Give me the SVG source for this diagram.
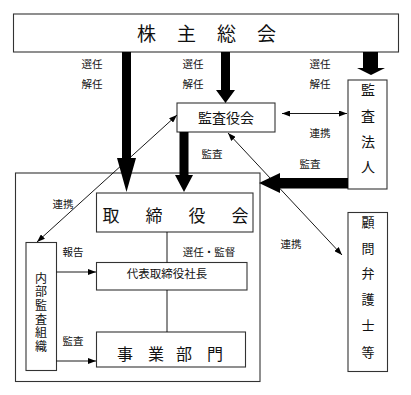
<svg xmlns="http://www.w3.org/2000/svg" width="411" height="395" viewBox="0 0 411 395">
<defs>
<marker id="ah" viewBox="0 0 8 6" markerWidth="8" markerHeight="6" refX="8" refY="3" orient="auto-start-reverse" markerUnits="userSpaceOnUse">
<path d="M0,0 L8,3 L0,6 z" fill="#000"/>
</marker>
<style>
.box{fill:#fff;stroke:#333;stroke-width:1.1}
.t{font-family:"Liberation Serif","Noto Sans CJK JP",serif;fill:#111;text-anchor:middle}
.lbl{font-size:10.5px}
.thin{stroke:#000;stroke-width:0.9;fill:none}
.thick{fill:#000}
</style>
</defs>
<rect width="411" height="395" fill="#fff"/>
<g id="outer"><rect class="box" x="15.5" y="173" width="244.5" height="208.5" fill="none"/></g>
<g id="kabunushi">
<rect class="box" x="13.5" y="14" width="385" height="38"/>
<text class="t" font-size="19" y="40.5"><tspan x="146.5">株</tspan><tspan x="186.5">主</tspan><tspan x="226.5">総</tspan><tspan x="266.5">会</tspan></text>
</g>
<g id="kansayakukai">
<rect class="box" x="177" y="103" width="98" height="29"/>
<text class="t" font-size="14" x="226" y="122.5">監査役会</text>
</g>
<g id="kansahojin">
<rect class="box" x="348" y="80" width="39" height="109"/>
<text class="t" font-size="14"><tspan x="368" y="95">監</tspan><tspan x="368" y="120.5">査</tspan><tspan x="368" y="147">法</tspan><tspan x="368" y="172">人</tspan></text>
</g>
<g id="torishimariyakukai">
<rect class="box" x="96.5" y="193" width="156.5" height="39"/>
<text class="t" font-size="17" y="221.5"><tspan x="111">取</tspan><tspan x="154">締</tspan><tspan x="197">役</tspan><tspan x="240">会</tspan></text>
</g>
<g id="daihyo">
<rect class="box" x="96.5" y="262.5" width="150.5" height="27.5"/>
<text class="t" font-size="11.5" x="167" y="278">代表取締役社長</text>
</g>
<g id="jigyobumon">
<rect class="box" x="96.5" y="332" width="149" height="35"/>
<text class="t" font-size="16" y="360"><tspan x="125">事</tspan><tspan x="156">業</tspan><tspan x="184">部</tspan><tspan x="215">門</tspan></text>
</g>
<g id="naibukansa">
<rect class="box" x="26" y="242.5" width="30.5" height="128"/>
<text class="t" font-size="12"><tspan x="41" y="282.5">内</tspan><tspan x="41" y="296">部</tspan><tspan x="41" y="310">監</tspan><tspan x="41" y="323.5">査</tspan><tspan x="41" y="337">組</tspan><tspan x="41" y="350.5">織</tspan></text>
</g>
<g id="komon">
<rect class="box" x="348" y="212.5" width="39.5" height="159"/>
<text class="t" font-size="13"><tspan x="368" y="226.5">顧</tspan><tspan x="368" y="253">問</tspan><tspan x="368" y="278">弁</tspan><tspan x="368" y="304">護</tspan><tspan x="368" y="330">士</tspan><tspan x="368" y="356.5">等</tspan></text>
</g>
<g id="connectors">
<polygon class="thick" points="122,52 131,52 131,158 136,158 126.5,192 117,158 122,158"/>
<polygon class="thick" points="221,52 230,52 230,90 235,90 225.5,103 216,90 221,90"/>
<polygon class="thick" points="363,52 378,52 378,68 385,68 371,75 357,68 363,68"/>
<polygon class="thick" points="179.5,132 188.5,132 188.5,175 193,175 184,192 175,175 179.5,175"/>
<polygon class="thick" points="348,178 348,188.5 280,188.5 280,193 259,183 280,173 280,178"/>
<line class="thin" x1="177" y1="115" x2="37" y2="242" marker-start="url(#ah)" marker-end="url(#ah)"/>
<line class="thin" x1="228" y1="133" x2="342" y2="255" marker-start="url(#ah)" marker-end="url(#ah)"/>
<line class="thin" x1="282" y1="113.5" x2="347" y2="113.5" marker-start="url(#ah)" marker-end="url(#ah)"/>
<line class="thin" x1="56.5" y1="272" x2="96" y2="272" marker-end="url(#ah)"/>
<line class="thin" x1="56.5" y1="361" x2="96" y2="361" marker-end="url(#ah)"/>
<line class="thin" x1="167" y1="232" x2="167" y2="262.5"/>
<line class="thin" x1="167" y1="290" x2="167" y2="332"/>
</g>
<g id="labels">
<text class="t lbl" x="92" y="67.5">選任</text>
<text class="t lbl" x="92" y="87.5">解任</text>
<text class="t lbl" x="193" y="67.5">選任</text>
<text class="t lbl" x="193" y="87.5">解任</text>
<text class="t lbl" x="320" y="67.5">選任</text>
<text class="t lbl" x="320" y="87.5">解任</text>
<text class="t lbl" x="320" y="137">連携</text>
<text class="t lbl" x="310" y="167.5">監査</text>
<text class="t lbl" x="212" y="157.5">監査</text>
<text class="t lbl" x="63" y="207.5">連携</text>
<text class="t lbl" x="291" y="248">連携</text>
<text class="t lbl" x="73" y="256">報告</text>
<text class="t lbl" x="209" y="256" font-size="11">選任・監督</text>
<text class="t lbl" x="73" y="344.5">監査</text>
</g>
</svg>
